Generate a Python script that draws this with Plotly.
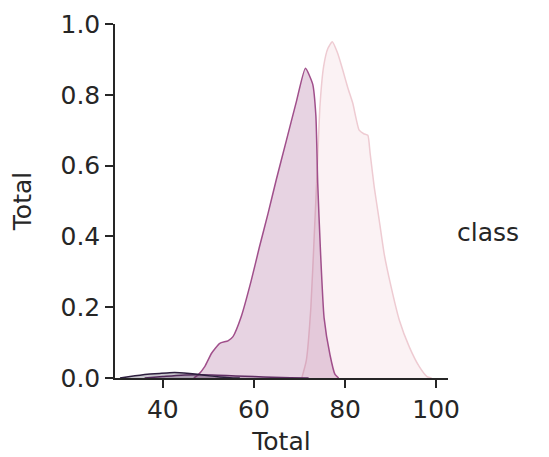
import plotly.graph_objects as go

# Class KDE curves (x = Total, y = density)
navy_x = [30.6, 32.8, 35.0, 37.2, 39.3, 41.5, 43.7, 45.9, 48.1, 50.3, 52.5, 54.7, 56.9]
navy_y = [0.0, 0.004, 0.008, 0.011, 0.013, 0.015, 0.015, 0.013, 0.010, 0.006, 0.003, 0.001, 0.0]

dark_x = [36.0, 40.0, 44.0, 48.0, 52.0, 56.0, 60.0, 64.0, 68.0, 72.0]
dark_y = [0.0, 0.004, 0.008, 0.009, 0.008, 0.006, 0.004, 0.002, 0.001, 0.0]

purple_x = [46.8, 47.7, 49.2, 50.7, 52.5, 54.3, 55.4, 57.2, 59.4, 61.2, 63.1, 64.9, 67.1,
            69.3, 71.3, 72.9, 73.6, 74.0, 74.6, 75.4, 76.7, 77.8, 78.6]
purple_y = [0.0, 0.008, 0.032, 0.07, 0.098, 0.105, 0.117, 0.173, 0.275, 0.37, 0.465, 0.56, 0.67,
            0.78, 0.875, 0.83, 0.74, 0.55, 0.36, 0.17, 0.065, 0.01, 0.0]

pink_x = [70.5, 71.5, 72.5, 73.3, 74.0, 74.5, 75.3, 76.2, 77.2, 78.3, 79.5, 80.6, 81.7,
          83.1, 84.1, 85.0, 85.5, 86.4, 87.5, 88.6, 90.1, 91.9, 94.1, 96.3, 98.0, 99.0]
pink_y = [0.0, 0.05, 0.2, 0.42, 0.62, 0.77, 0.88, 0.93, 0.95, 0.92, 0.87, 0.82, 0.776,
          0.70, 0.69, 0.686, 0.635, 0.54, 0.446, 0.35, 0.258, 0.164, 0.088, 0.032, 0.004, 0.0]

x_ticks = [40, 60, 80, 100]
y_ticks = [0.0, 0.2, 0.4, 0.6, 0.8, 1.0]

series = [
    (pink_x, pink_y, "#eecbd2", "rgba(238,203,210,0.25)"),
    (purple_x, purple_y, "#a04f8b", "rgba(160,79,139,0.25)"),
    (dark_x, dark_y, "#5e2c62", "rgba(94,44,98,0.25)"),
    (navy_x, navy_y, "#2d1e3e", "rgba(45,30,62,0.25)"),
]

fig = go.Figure()
for xs, ys, lc, fc in series:
    fig.add_trace(go.Scatter(
        x=xs, y=ys, mode="lines", line=dict(color=lc, width=1.5, shape="spline", smoothing=0.5),
        fill="tozeroy", fillcolor=fc, hoverinfo="skip", showlegend=False))

font = dict(family="DejaVu Sans", size=25, color="#262626")
W, H = 549, 457
L, R, T, B = 107, 109, 16, 87
fig.update_layout(
    width=W, height=H,
    margin=dict(l=L, r=R, t=T, b=B),
    paper_bgcolor="white", plot_bgcolor="white",
    font=font,
    showlegend=False,
)
fig.update_xaxes(
    range=[29.5, 102.6], tickvals=x_ticks, ticktext=[str(v) for v in x_ticks],
    showgrid=False, zeroline=False, showline=True, linecolor="#262626", linewidth=1.5,
    ticks="outside", ticklen=8, tickwidth=1.5, tickcolor="#262626", automargin=False,
    title=dict(text="Total", font=font, standoff=10),
)
fig.update_yaxes(
    range=[0, 1.0], tickvals=y_ticks, ticktext=[f"{v:.1f}" for v in y_ticks],
    showgrid=False, zeroline=False, showline=True, linecolor="#262626", linewidth=1.5,
    ticks="outside", ticklen=8, tickwidth=1.5, tickcolor="#262626", automargin=False,
    title=dict(text="Total", font=font, standoff=22),
)
fig.add_annotation(text="class", xref="paper", yref="paper",
                   x=(447 - L) / (W - L - R), y=(H - B - 224) / (H - B - T),
                   xanchor="left", yanchor="middle", showarrow=False, font=font)
fig.write_html("out.html")
